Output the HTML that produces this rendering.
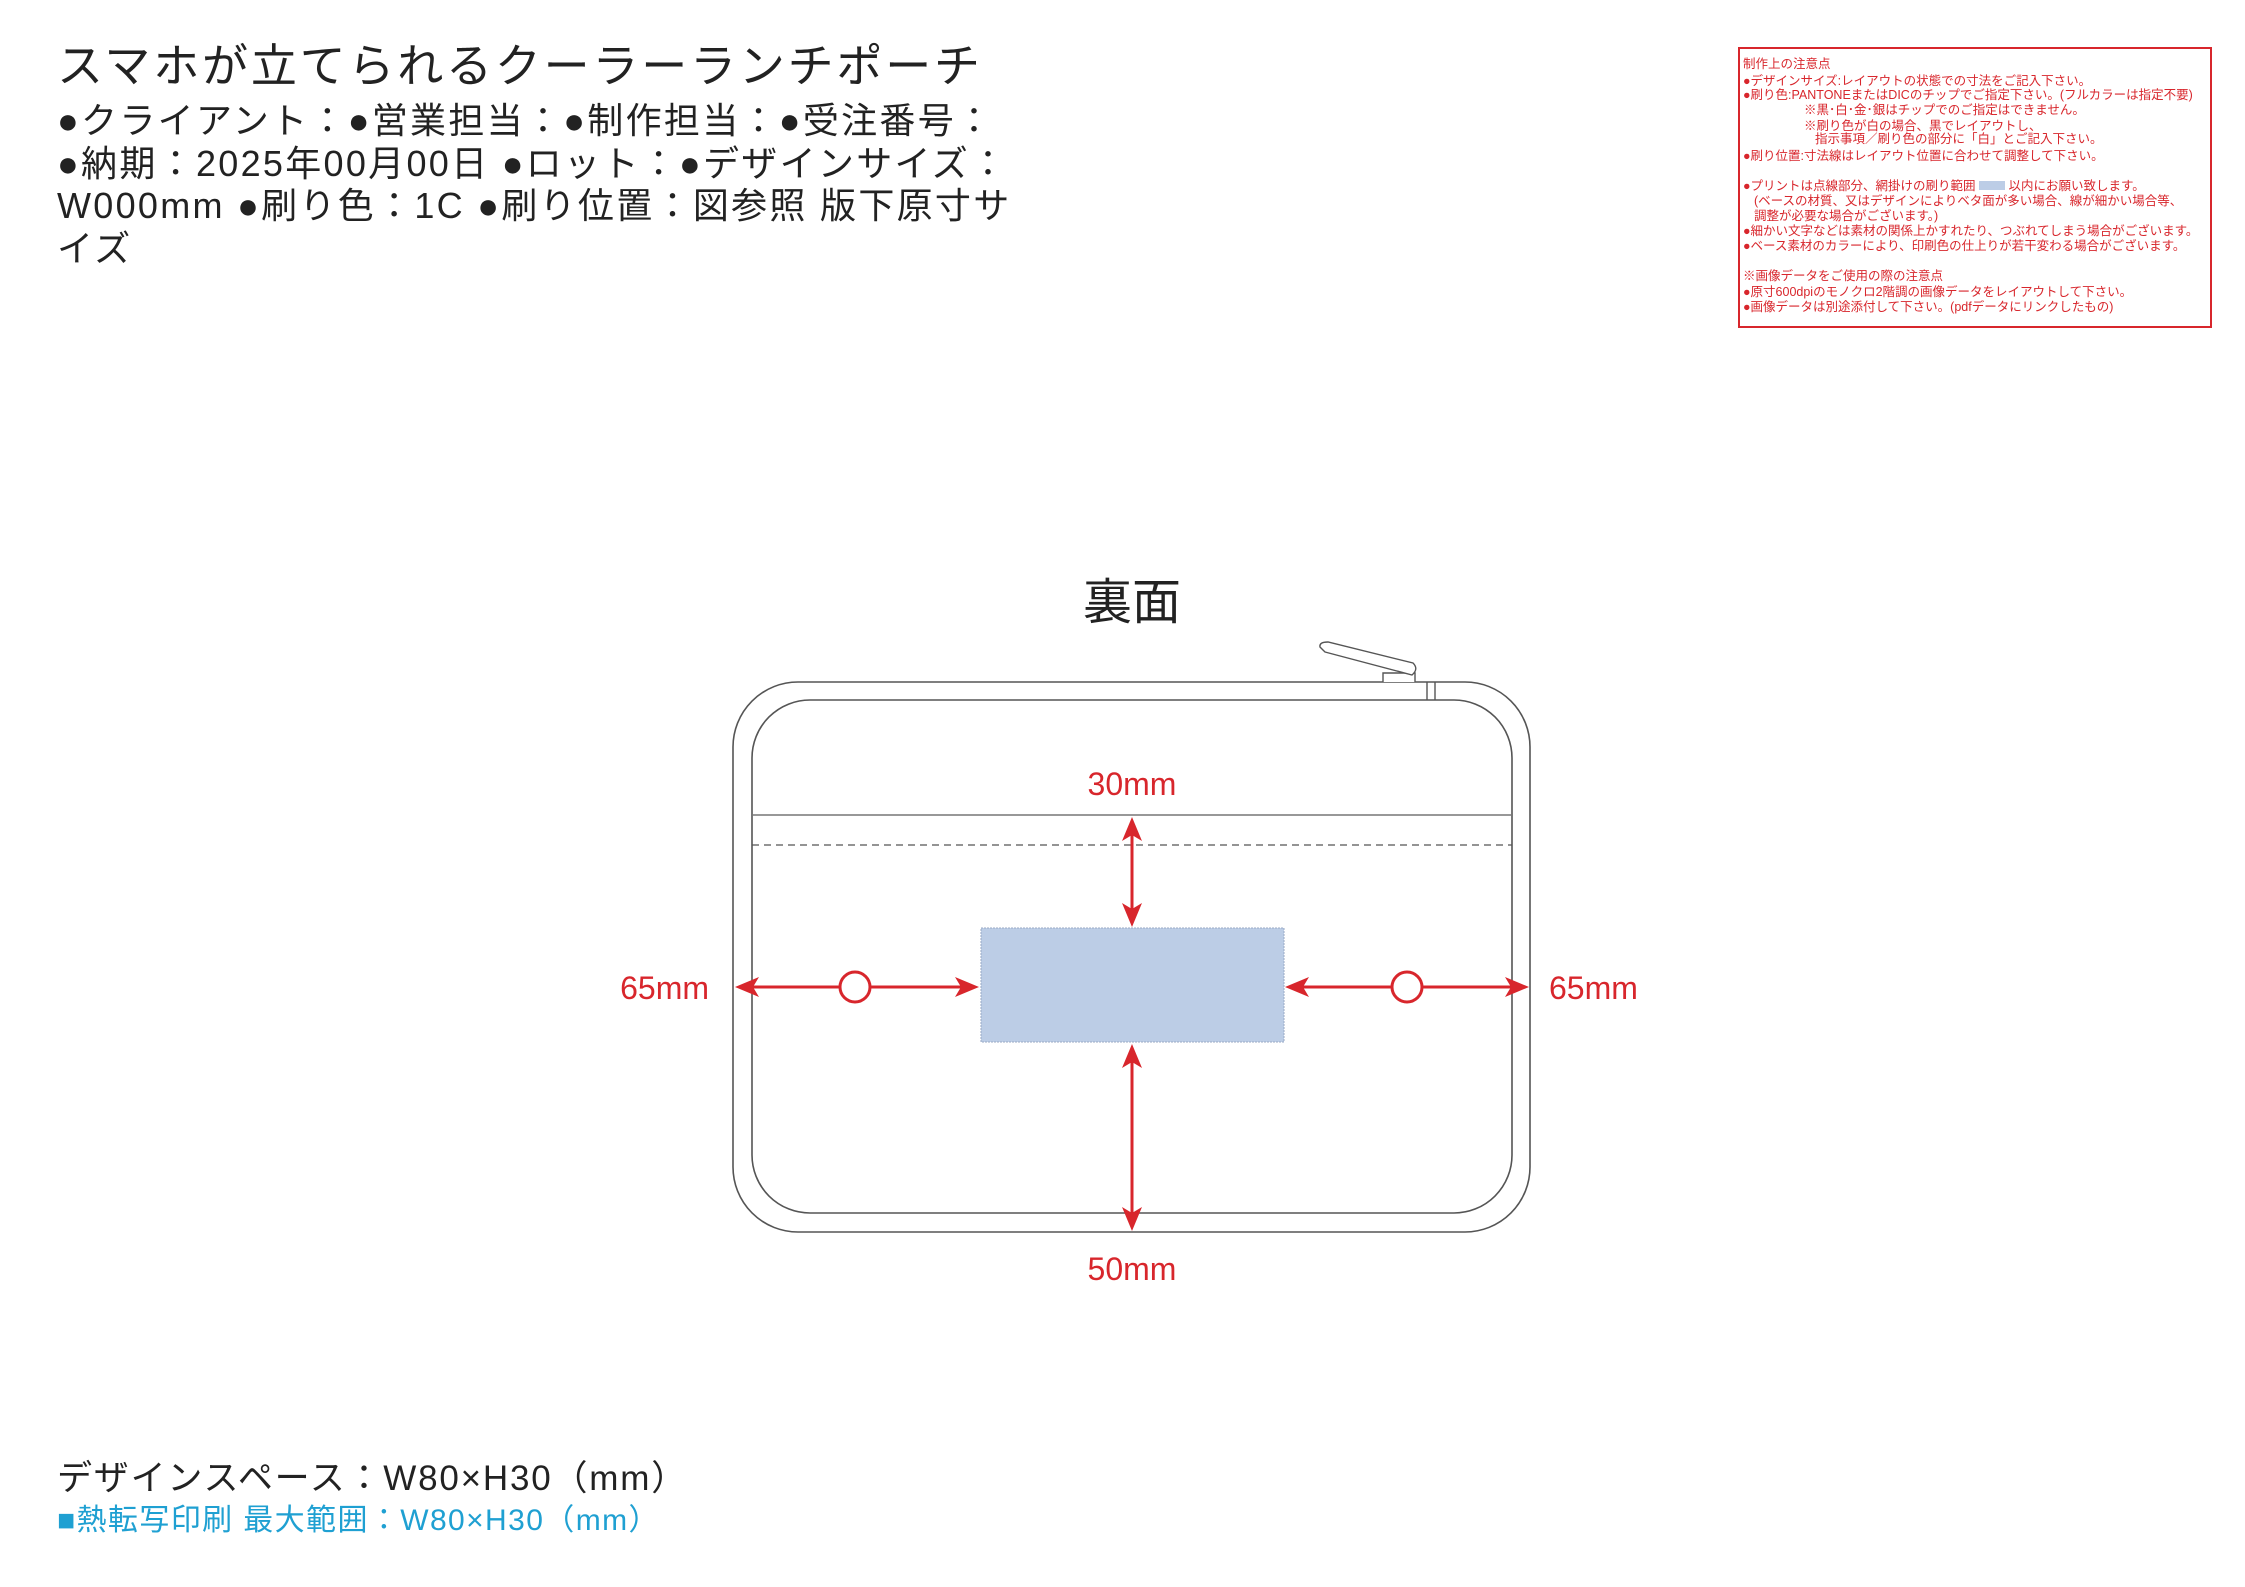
<!DOCTYPE html>
<html><head><meta charset="utf-8"><style>
html,body{margin:0;padding:0;background:#fff;}
body{width:2245px;height:1587px;position:relative;overflow:hidden;font-family:"Liberation Sans","Noto Sans CJK JP",sans-serif;}
.t{position:absolute;white-space:nowrap;}
.n{position:absolute;left:1743px;font-size:12.5px;color:#d8262c;white-space:nowrap;line-height:15px;}
</style></head><body>
<div class="t" style="left:57px;top:38px;font-size:46px;color:#222;line-height:56px;letter-spacing:2.8px;">スマホが立てられるクーラーランチポーチ</div>
<div class="t" style="left:57px;top:100px;font-size:36px;color:#222;line-height:42.5px;letter-spacing:2.3px;">●クライアント：●営業担当：●制作担当：●受注番号：<br>●納期：2025年00月00日 ●ロット：●デザインサイズ：<br>W000mm ●刷り色：1C ●刷り位置：図参照 版下原寸サ<br>イズ</div>

<div style="position:absolute;left:1738px;top:47px;width:470px;height:277px;border:2px solid #d8262c;"></div>
<div class="n" style="top:57px;">制作上の注意点</div>
<div class="n" style="top:74px;">●デザインサイズ:レイアウトの状態での寸法をご記入下さい。</div>
<div class="n" style="top:88px;">●刷り色:PANTONEまたはDICのチップでご指定下さい。(フルカラーは指定不要)</div>
<div class="n" style="top:103px;left:1804px;">※黒･白･金･銀はチップでのご指定はできません。</div>
<div class="n" style="top:119px;left:1804px;">※刷り色が白の場合、黒でレイアウトし、</div>
<div class="n" style="top:132px;left:1815px;">指示事項／刷り色の部分に「白」とご記入下さい。</div>
<div class="n" style="top:149px;">●刷り位置:寸法線はレイアウト位置に合わせて調整して下さい。</div>
<div class="n" style="top:179px;">●プリントは点線部分、網掛けの刷り範囲 <span style="display:inline-block;width:26px;height:9px;background:#bccde6;"></span> 以内にお願い致します。</div>
<div class="n" style="top:194px;left:1754px;">(ベースの材質、又はデザインによりベタ面が多い場合、線が細かい場合等、</div>
<div class="n" style="top:209px;left:1754px;">調整が必要な場合がございます。)</div>
<div class="n" style="top:224px;">●細かい文字などは素材の関係上かすれたり、つぶれてしまう場合がございます。</div>
<div class="n" style="top:239px;">●ベース素材のカラーにより、印刷色の仕上りが若干変わる場合がございます。</div>
<div class="n" style="top:269px;">※画像データをご使用の際の注意点</div>
<div class="n" style="top:285px;">●原寸600dpiのモノクロ2階調の画像データをレイアウトして下さい。</div>
<div class="n" style="top:300px;">●画像データは別途添付して下さい。(pdfデータにリンクしたもの)</div>

<svg width="2245" height="1587" style="position:absolute;left:0;top:0;" xmlns="http://www.w3.org/2000/svg">
<g transform="translate(-5,-4)">
<text x="1137" y="623" font-size="49" text-anchor="middle" fill="#222" font-family="Liberation Sans, Noto Sans CJK JP, sans-serif">裏面</text>
<rect x="738" y="686" width="797" height="550" rx="65" fill="none" stroke="#555" stroke-width="1.6"/>
<rect x="757" y="704" width="760" height="513" rx="58" fill="none" stroke="#555" stroke-width="1.6"/>
<line x1="757" y1="819" x2="1517" y2="819" stroke="#777" stroke-width="1.6"/>
<line x1="757" y1="849" x2="1517" y2="849" stroke="#555" stroke-width="1.3" stroke-dasharray="7,5"/>
<g fill="#fff" stroke="#555" stroke-width="1.4">
<path d="M1388 686 v-9 h32 v9"/>
<path d="M1330 656 L1417 679 Q1424 673 1418 667 L1333 646 Q1324 646 1325 651 Z"/>
<line x1="1432" y1="686" x2="1432" y2="704"/><line x1="1440" y1="686" x2="1440" y2="704"/>
</g>
<rect x="986" y="932" width="303" height="114" fill="#bccde6" stroke="#9aaac5" stroke-width="1" stroke-dasharray="2,1"/>
<g stroke="#d8262c" stroke-width="3" fill="none">
<line x1="1137" y1="830" x2="1137" y2="922"/>
<line x1="1137" y1="1057" x2="1137" y2="1226"/>
<line x1="750" y1="991" x2="844" y2="991"/><line x1="876" y1="991" x2="973" y2="991"/>
<line x1="1302" y1="991" x2="1396" y2="991"/><line x1="1428" y1="991" x2="1523" y2="991"/>
<circle cx="860" cy="991" r="15" stroke-width="3"/>
<circle cx="1412" cy="991" r="15" stroke-width="3"/>
</g>
<g fill="#d8262c">
<path d="M1137 821 l-10 24 l10 -6 l10 6 z"/>
<path d="M1137 931 l-10 -24 l10 6 l10 -6 z"/>
<path d="M1137 1048 l-10 24 l10 -6 l10 6 z"/>
<path d="M1137 1235 l-10 -24 l10 6 l10 -6 z"/>
<path d="M740 991 l24 -10 l-6 10 l6 10 z"/>
<path d="M984 991 l-24 -10 l6 10 l-6 10 z"/>
<path d="M1290 991 l24 -10 l-6 10 l6 10 z"/>
<path d="M1534 991 l-24 -10 l6 10 l-6 10 z"/>
</g>
<g fill="#d8262c" font-size="32" font-family="Liberation Sans, sans-serif">
<text x="1137" y="799" text-anchor="middle">30mm</text>
<text x="1137" y="1284" text-anchor="middle">50mm</text>
<text x="714" y="1003" text-anchor="end">65mm</text>
<text x="1554" y="1003">65mm</text>
</g>
</g>
</svg>

<div class="t" style="left:57px;top:1458px;font-size:35px;color:#222;line-height:42px;letter-spacing:1.8px;">デザインスペース：W80×H30（mm）</div>
<div class="t" style="left:57px;top:1503px;font-size:30px;color:#1fa0d2;line-height:36px;letter-spacing:1.4px;">■熱転写印刷 最大範囲：W80×H30（mm）</div>
</body></html>
